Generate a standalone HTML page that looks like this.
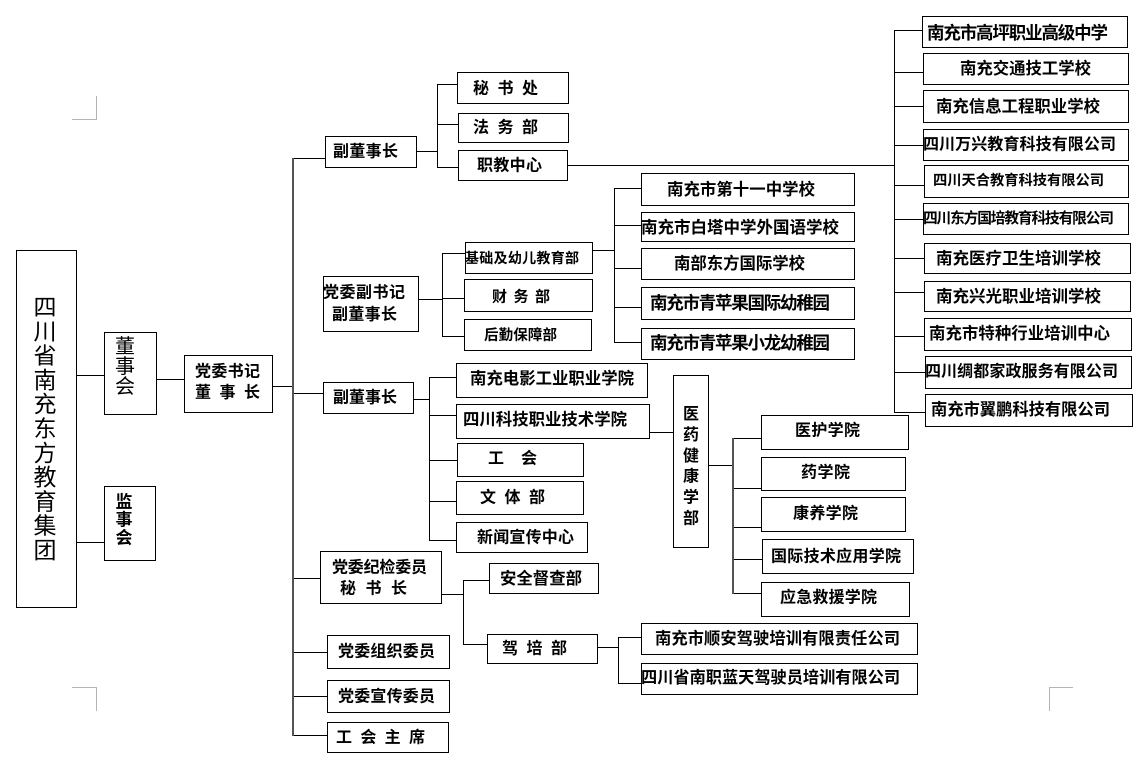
<!DOCTYPE html>
<html>
<head>
<meta charset="utf-8">
<style>
  html,body{margin:0;padding:0;background:#fff;}
  svg{display:block;}
  text{font-family:"Liberation Sans","Noto Sans CJK SC","WenQuanYi Zen Hei",sans-serif;font-weight:bold;fill:#000;}
  text.n{font-weight:normal;}
</style>
</head>
<body>
<svg width="1146" height="782" viewBox="0 0 1146 782" xmlns="http://www.w3.org/2000/svg">
<rect x="0" y="0" width="1146" height="782" fill="#fff"/>

<!-- corner marks -->
<g stroke="#b4b4b4" stroke-width="1" fill="none">
  <path d="M72 119.5 H96.5 V96"/>
  <path d="M72 687.5 H96.5 V711"/>
  <path d="M1073 687.5 H1049.5 V711"/>
</g>

<!-- connectors -->
<g stroke="#000" stroke-width="1" fill="none">
  <path d="M76 375.5 H104"/>
  <path d="M76 542.5 H104"/>
  <path d="M156 379.5 H184"/>
  <path d="M272 386.5 H293"/>
  <path d="M293 158.5 H325"/>
  <path d="M293 393.5 H323"/>
  <path d="M293 578.5 H320"/>
  <path d="M293 652.5 H327"/>
  <path d="M293 696.5 H327"/>
  <path d="M293 735.5 H327"/>
  <path d="M416 151.5 H437.5"/>
  <path d="M437.5 84 V167.5"/>
  <path d="M437 84.5 H457"/>
  <path d="M437 124.5 H458"/>
  <path d="M437 167.5 H458"/>
  <path d="M567 165.5 H894"/>
  <path d="M894.5 30 V412.5"/>
  <path d="M894 30.5 H922"/>
  <path d="M894 72.5 H923"/>
  <path d="M894 106.5 H923"/>
  <path d="M894 145.5 H923"/>
  <path d="M894 185.5 H924"/>
  <path d="M894 219.5 H923"/>
  <path d="M894 258.5 H924"/>
  <path d="M894 292.5 H924"/>
  <path d="M894 336.5 H924"/>
  <path d="M894 372.5 H925"/>
  <path d="M894 412.5 H925"/>
  <path d="M418 299.5 H442.5"/>
  <path d="M442.5 253 V336.5"/>
  <path d="M442 253.5 H465"/>
  <path d="M442 298.5 H464"/>
  <path d="M442 336.5 H464"/>
  <path d="M592 250.5 H614.5"/>
  <path d="M614.5 188 V342.5"/>
  <path d="M614 188.5 H641"/>
  <path d="M614 225.5 H641"/>
  <path d="M614 268.5 H641"/>
  <path d="M614 307.5 H641"/>
  <path d="M614 342.5 H641"/>
  <path d="M413 399.5 H429.5"/>
  <path d="M429.5 377 V540.5"/>
  <path d="M429 377.5 H456"/>
  <path d="M429 415.5 H456"/>
  <path d="M429 460.5 H457"/>
  <path d="M429 501.5 H456"/>
  <path d="M429 540.5 H456"/>
  <path d="M649 432.5 H673"/>
  <path d="M708 465.5 H733"/>
  <path d="M733 438.5 H761"/>
  <path d="M733 488.5 H761"/>
  <path d="M733 527.5 H761"/>
  <path d="M733 559.5 H762"/>
  <path d="M733 593.5 H761"/>
  <path d="M441 594.5 H463.5"/>
  <path d="M463.5 580 V644.5"/>
  <path d="M463 580.5 H489"/>
  <path d="M463 644.5 H487"/>
  <path d="M597 647.5 H618.5"/>
  <path d="M618.5 637 V683.5"/>
  <path d="M618 637.5 H641"/>
  <path d="M618 683.5 H641"/>
</g>
<g stroke="#555" stroke-width="2" fill="none">
  <path d="M293 158 V736"/>
  <path d="M733 438 V594"/>
</g>

<!-- boxes -->
<g stroke="#000" stroke-width="1" fill="#fff">
  <rect x="16.5" y="250.5" width="60" height="357"/>
  <rect x="104.5" y="332.5" width="52" height="82"/>
  <rect x="104.5" y="486.5" width="51" height="74"/>
  <rect x="184.5" y="355.5" width="88" height="57"/>
  <rect x="325.5" y="136.5" width="91" height="31"/>
  <rect x="457.5" y="72.5" width="111" height="31"/>
  <rect x="458.5" y="113.5" width="110" height="29"/>
  <rect x="458.5" y="150.5" width="109" height="30"/>
  <rect x="323.5" y="276.5" width="95" height="55"/>
  <rect x="465.5" y="242.5" width="127" height="31"/>
  <rect x="464.5" y="279.5" width="128" height="32"/>
  <rect x="464.5" y="319.5" width="127" height="31"/>
  <rect x="323.5" y="382.5" width="90" height="31"/>
  <rect x="456.5" y="363.5" width="191" height="34"/>
  <rect x="456.5" y="404.5" width="193" height="34"/>
  <rect x="457.5" y="443.5" width="126" height="33"/>
  <rect x="456.5" y="481.5" width="127" height="33"/>
  <rect x="456.5" y="522.5" width="131" height="30"/>
  <rect x="320.5" y="551.5" width="121" height="52"/>
  <rect x="489.5" y="563.5" width="109" height="30"/>
  <rect x="487.5" y="634.5" width="110" height="29"/>
  <rect x="327.5" y="635.5" width="122" height="33"/>
  <rect x="327.5" y="680.5" width="122" height="32"/>
  <rect x="327.5" y="722.5" width="121" height="30"/>
  <rect x="673.5" y="375.5" width="35" height="172"/>
  <rect x="761.5" y="415.5" width="147" height="34"/>
  <rect x="761.5" y="457.5" width="144" height="33"/>
  <rect x="761.5" y="497.5" width="144" height="34"/>
  <rect x="762.5" y="539.5" width="151" height="34"/>
  <rect x="761.5" y="582.5" width="148" height="34"/>
  <rect x="641.5" y="623.5" width="276" height="31"/>
  <rect x="641.5" y="663.5" width="276" height="31"/>
  <rect x="641.5" y="173.5" width="213" height="32"/>
  <rect x="641.5" y="212.5" width="213" height="29"/>
  <rect x="641.5" y="248.5" width="213" height="31"/>
  <rect x="641.5" y="287.5" width="213" height="32"/>
  <rect x="641.5" y="328.5" width="213" height="31"/>
  <rect x="922.5" y="16.5" width="205" height="31"/>
  <rect x="923.5" y="53.5" width="205" height="31"/>
  <rect x="923.5" y="90.5" width="205" height="32"/>
  <rect x="923.5" y="129.5" width="205" height="31"/>
  <rect x="924.5" y="165.5" width="204" height="32"/>
  <rect x="923.5" y="203.5" width="205" height="31"/>
  <rect x="924.5" y="243.5" width="206" height="30"/>
  <rect x="924.5" y="281.5" width="206" height="30"/>
  <rect x="924.5" y="318.5" width="207" height="32"/>
  <rect x="925.5" y="356.5" width="206" height="32"/>
  <rect x="925.5" y="394.5" width="207" height="32"/>
</g>

<!-- vertical texts -->
<g text-anchor="middle" dominant-baseline="central">
  <g font-size="23">
    <text class="n" x="45" y="307">四</text>
    <text class="n" x="45" y="331.3">川</text>
    <text class="n" x="45" y="355.6">省</text>
    <text class="n" x="45" y="379.9">南</text>
    <text class="n" x="45" y="404.2">充</text>
    <text class="n" x="45" y="428.5">东</text>
    <text class="n" x="45" y="452.8">方</text>
    <text class="n" x="45" y="477.1">教</text>
    <text class="n" x="45" y="501.4">育</text>
    <text class="n" x="45" y="525.7">集</text>
    <text class="n" x="45" y="550">团</text>
  </g>
  <g font-size="20">
    <text class="n" x="125" y="347">董</text>
    <text class="n" x="125" y="367">事</text>
    <text class="n" x="125" y="387">会</text>
  </g>
  <g font-size="17">
    <text x="124" y="502">监</text>
    <text x="124" y="520">事</text>
    <text x="124" y="538">会</text>
  </g>
  <g font-size="16">
    <text x="691" y="414.5">医</text>
    <text x="691" y="435.4">药</text>
    <text x="691" y="456.3">健</text>
    <text x="691" y="477.2">康</text>
    <text x="691" y="498.1">学</text>
    <text x="691" y="519">部</text>
  </g>
</g>

<!-- horizontal texts -->
<g dominant-baseline="central">
  <text x="195" y="372" font-size="16" textLength="65" lengthAdjust="spacing">党委书记</text>
  <text x="195" y="393" font-size="16" textLength="65" lengthAdjust="spacing">董事长</text>

  <text x="333" y="152" font-size="16" textLength="65" lengthAdjust="spacing">副董事长</text>
  <text x="473" y="89" font-size="16" textLength="65" lengthAdjust="spacing">秘书处</text>
  <text x="473" y="128" font-size="16" textLength="65" lengthAdjust="spacing">法务部</text>
  <text x="477" y="166" font-size="16" textLength="65" lengthAdjust="spacing">职教中心</text>

  <text x="323" y="293" font-size="16" textLength="82" lengthAdjust="spacing">党委副书记</text>
  <text x="332" y="315" font-size="16" textLength="65" lengthAdjust="spacing">副董事长</text>
  <text x="465" y="258" font-size="14" textLength="114" lengthAdjust="spacing">基础及幼儿教育部</text>
  <text x="492" y="297" font-size="15" textLength="58" lengthAdjust="spacing">财务部</text>
  <text x="484" y="336" font-size="14.5" textLength="73" lengthAdjust="spacing">后勤保障部</text>

  <text x="667" y="190" font-size="16.4" textLength="148" lengthAdjust="spacing">南充市第十一中学校</text>
  <text x="641" y="228" font-size="16.5" textLength="198" lengthAdjust="spacing">南充市白塔中学外国语学校</text>
  <text x="674" y="264" font-size="16.4" textLength="131" lengthAdjust="spacing">南部东方国际学校</text>
  <text x="650" y="303" font-size="17.5" textLength="180" lengthAdjust="spacing">南充市青苹果国际幼稚园</text>
  <text x="650" y="343" font-size="17.5" textLength="180" lengthAdjust="spacing">南充市青苹果小龙幼稚园</text>

  <text x="927" y="33" font-size="17.5" textLength="181" lengthAdjust="spacing">南充市高坪职业高级中学</text>
  <text x="960" y="69" font-size="16.4" textLength="131" lengthAdjust="spacing">南充交通技工学校</text>
  <text x="936" y="107" font-size="16.4" textLength="164" lengthAdjust="spacing">南充信息工程职业学校</text>
  <text x="923" y="145" font-size="16" textLength="193" lengthAdjust="spacing">四川万兴教育科技有限公司</text>
  <text x="933" y="181" font-size="14.3" textLength="171" lengthAdjust="spacing">四川天合教育科技有限公司</text>
  <text x="923" y="219" font-size="14.7" textLength="191" lengthAdjust="spacing">四川东方国培教育科技有限公司</text>
  <text x="936" y="259" font-size="16.5" textLength="165" lengthAdjust="spacing">南充医疗卫生培训学校</text>
  <text x="936" y="297" font-size="16.5" textLength="165" lengthAdjust="spacing">南充兴光职业培训学校</text>
  <text x="929" y="334" font-size="16.4" textLength="181" lengthAdjust="spacing">南充市特种行业培训中心</text>
  <text x="925" y="372" font-size="16" textLength="193" lengthAdjust="spacing">四川绸都家政服务有限公司</text>
  <text x="931" y="410" font-size="16.3" textLength="179" lengthAdjust="spacing">南充市翼鹏科技有限公司</text>

  <text x="333" y="398" font-size="16" textLength="64" lengthAdjust="spacing">副董事长</text>
  <text x="470" y="379" font-size="16.4" textLength="164" lengthAdjust="spacing">南充电影工业职业学院</text>
  <text x="463" y="420" font-size="16.4" textLength="164" lengthAdjust="spacing">四川科技职业技术学院</text>
  <text x="488" y="459" font-size="16" textLength="49" lengthAdjust="spacing">工会</text>
  <text x="480" y="498" font-size="16" textLength="65" lengthAdjust="spacing">文体部</text>
  <text x="477" y="538" font-size="16" textLength="97" lengthAdjust="spacing">新闻宣传中心</text>

  <text x="332" y="568" font-size="16" textLength="95" lengthAdjust="spacing">党委纪检委员</text>
  <text x="340" y="589" font-size="16" textLength="67" lengthAdjust="spacing">秘书长</text>
  <text x="500" y="579" font-size="16.4" textLength="82" lengthAdjust="spacing">安全督查部</text>
  <text x="502" y="649" font-size="16" textLength="65" lengthAdjust="spacing">驾培部</text>
  <text x="338" y="652" font-size="16" textLength="97" lengthAdjust="spacing">党委组织委员</text>
  <text x="338" y="697" font-size="16" textLength="97" lengthAdjust="spacing">党委宣传委员</text>
  <text x="336" y="738" font-size="16" textLength="89" lengthAdjust="spacing">工会主席</text>

  <text x="795" y="431" font-size="16" textLength="65" lengthAdjust="spacing">医护学院</text>
  <text x="801" y="473" font-size="16" textLength="49" lengthAdjust="spacing">药学院</text>
  <text x="793" y="514" font-size="16" textLength="65" lengthAdjust="spacing">康养学院</text>
  <text x="771" y="557" font-size="16" textLength="130" lengthAdjust="spacing">国际技术应用学院</text>
  <text x="780" y="598" font-size="16" textLength="97" lengthAdjust="spacing">应急救援学院</text>
  <text x="655" y="639" font-size="16.3" textLength="245" lengthAdjust="spacing">南充市顺安驾驶培训有限责任公司</text>
  <text x="641" y="678" font-size="16.2" textLength="259" lengthAdjust="spacing">四川省南职蓝天驾驶员培训有限公司</text>
</g>
</svg>
</body>
</html>
